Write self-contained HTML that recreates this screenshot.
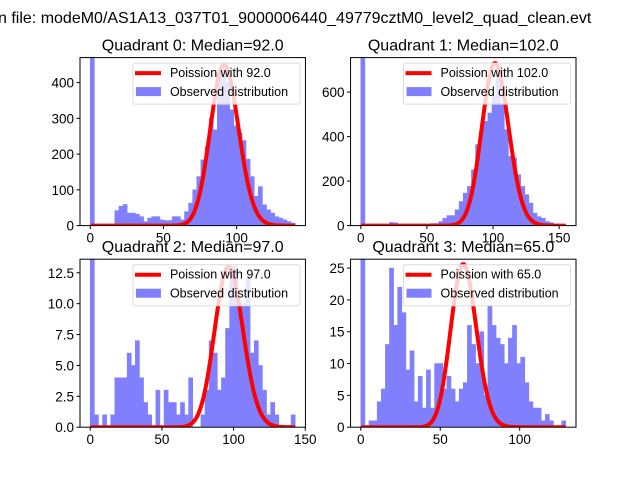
<!DOCTYPE html>
<html><head><meta charset="utf-8"><style>
html,body{margin:0;padding:0;background:#fff;width:640px;height:480px;overflow:hidden}
svg{display:block;font-family:"Liberation Sans","DejaVu Sans",sans-serif}
</style></head><body>
<svg id="fig" width="640" height="480">
<text x="-2" y="23" font-size="16" fill="#000">n file: modeM0/AS1A13_037T01_9000006440_49779cztM0_level2_quad_clean.evt</text>
</svg>
<script>
const lambdas = [92, 102, 97, 65];
const xMaxes = [140, 155, 143, 129];
const yMaxes = [470, 755, 13.6, 26.4];
const curvePeaks = [450, 730, 13, 25.6];
const yTickLabels0 = [0, 100, 200, 300, 400];
const yTickLabels1 = [0, 200, 400, 600];
const yTickLabels2 = [0, 2.5, 5, 7.5, 10, 12.5];
const yTickLabels3 = [0, 5, 10, 15, 20, 25];
const xTickLabels0 = [0, 50, 100];
const xTickLabels1 = [0, 50, 100, 150];
const xTickLabels2 = [0, 50, 100, 150];
const xTickLabels3 = [0, 50, 100];
const counts0 = [900,2,2,2,2,2,42,54,59,35,35,32,25,11,21,25,25,16,14,14,25,25,16,39,63,100,137,184,221,301,268,430,440,400,324,279,260,238,186,137,82,109,58,44,35,25,21,16,11,7];
const counts1 = [1500,0,0,0,0,0,0,14,12,5,5,5,5,5,5,5,5,9,9,18,33,45,45,71,108,146,176,251,364,424,469,506,581,716,551,431,311,304,229,176,139,101,56,40,33,18,13,5,5,5];
const counts2 = [20,1,0,1,0,1,4,4,4,6,5,7,4,2,1,0,3,0,3,2,2,1,2,1,4,0,0,1,3,7,6,3,4,8,13,13,10,10,12,6,7,5,3,1,2,1,0,0,0,1];
const counts3 = [40,0,1,1,4,6,13,25,16,22,18,9,12,4,8,3,9,3,10,10,6,8,6,4,6,7,16,13,10,15,5,19,16,14,13,10,14,16,10,11,7,4,3,3,1,2,1,0,0,1];

const allCounts = [counts0, counts1, counts2, counts3];
const allYTicks = [yTickLabels0, yTickLabels1, yTickLabels2, yTickLabels3];
const allXTicks = [xTickLabels0, xTickLabels1, xTickLabels2, xTickLabels3];
const medians = ["92.0", "102.0", "97.0", "65.0"];

const NS = "http://www.w3.org/2000/svg";
const svg = document.getElementById("fig");
function mk(tag, attrs, parent) {
  const e = document.createElementNS(NS, tag);
  for (const k in attrs) e.setAttribute(k, attrs[k]);
  (parent || svg).appendChild(e);
  return e;
}
const W = 225.45, H = 168;
const lefts = [80, 350.55, 80, 350.55];
const tops = [57.6, 57.6, 259.2, 259.2];

for (let q = 0; q < 4; q++) {
  const L = lefts[q], T = tops[q], B = T + H;
  const xmax = xMaxes[q], ymax = yMaxes[q];
  const x0 = -0.05 * xmax, x1 = 1.05 * xmax;
  const sx = v => L + (v - x0) / (x1 - x0) * W;
  const sy = v => B - v / ymax * H;
  const g = mk("g", {});
  
  
  const clipId = "clip" + q;
  const cp = mk("clipPath", {id: clipId}, g);
  mk("rect", {x: L, y: T, width: W, height: H}, cp);
  const plot = mk("g", {"clip-path": "url(#" + clipId + ")"}, g);
  const counts = allCounts[q];
  const bw = xmax / counts.length;
  counts.forEach((c, i) => {
    if (c <= 0) return;
    const xa = sx(i * bw), xb = sx((i + 1) * bw);
    const r = mk("rect", {x: xa, y: sy(c), width: xb - xa, height: B - sy(c), fill: "#8080ff", stroke: "#8080ff", "stroke-width": 0.6}, plot);
    
    
  });
  const lam = lambdas[q];
  const lp = k => { let s = -lam + k * Math.log(lam); for (let j = 2; j <= k; j++) s -= Math.log(j); return s; };
  const lpPeak = lp(Math.floor(lam));
  let d = "";
  for (let k = 0; k <= Math.floor(xmax); k++) {
    const v = curvePeaks[q] * Math.exp(lp(k) - lpPeak);
    d += (k ? "L" : "M") + sx(k).toFixed(2) + "," + sy(v).toFixed(2);
  }
  const path = mk("path", {d: d, fill: "none", stroke: "#ff0000", "stroke-width": 4, "stroke-linejoin": "round"}, plot);
  
  
  const fr = mk("rect", {x: L, y: T, width: W, height: H, fill: "none", stroke: "#000", "stroke-width": 1}, g);
  
  
  allXTicks[q].forEach(t => {
    const x = sx(t);
    mk("line", {x1: x, y1: B, x2: x, y2: B + 3.5, stroke: "#000"}, g);
    const tx = mk("text", {x: x, y: B + 17, "font-size": 13.5, "text-anchor": "middle"}, g);
    tx.textContent = t;
    
    
  });
  allYTicks[q].forEach(t => {
    const y = sy(t);
    mk("line", {x1: L, y1: y, x2: L - 3.5, y2: y, stroke: "#000"}, g);
    const ty = mk("text", {x: L - 6, y: y + 5, "font-size": 13.5, "text-anchor": "end"}, g);
    ty.textContent = q === 2 ? t.toFixed(1) : t;
    
    
  });
  const ti = mk("text", {x: L + W / 2, y: T - 7, "font-size": 16, "text-anchor": "middle"}, g);
  ti.textContent = "Quadrant " + q + ": Median=" + medians[q];
  
  
  const lg = mk("g", {}, g);
  
  
  const lx = L + W - 172.5, ly = T + 5.5;
  mk("rect", {x: lx, y: ly, width: 167, height: 41, rx: 2, fill: "rgba(255,255,255,0.8)", stroke: "#dcdcdc"}, lg);
  mk("line", {x1: lx + 2, y1: ly + 10, x2: lx + 28, y2: ly + 10, stroke: "#ff0000", "stroke-width": 4}, lg);
  const t1 = mk("text", {x: lx + 37, y: ly + 14, "font-size": 12.5}, lg);
  t1.textContent = "Poission with " + medians[q];
  
  
  mk("rect", {x: lx + 3, y: ly + 24, width: 25, height: 9, fill: "#8080ff"}, lg);
  const t2 = mk("text", {x: lx + 37, y: ly + 33, "font-size": 12.5}, lg);
  t2.textContent = "Observed distribution";
  
  
}
</script>
</body></html>
